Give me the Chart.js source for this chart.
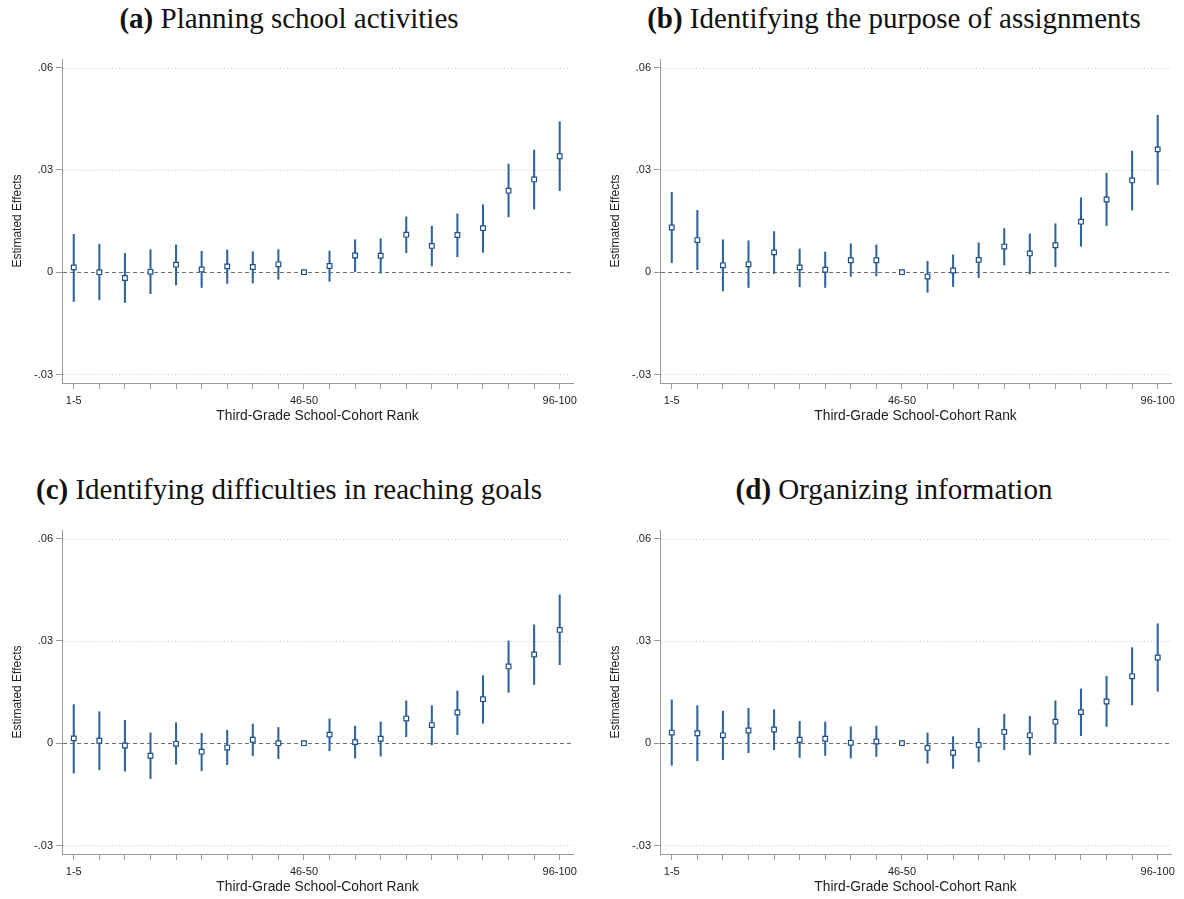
<!DOCTYPE html>
<html><head><meta charset="utf-8">
<script src="https://cdn.jsdelivr.net/npm/chart.js@4.4.1/dist/chart.umd.min.js"></script>
<style>
html,body{margin:0;padding:0;background:#fff}
body{width:1184px;height:899px;position:relative;overflow:hidden}
.ttl{position:absolute;font-family:"Liberation Serif","Times New Roman",serif;font-size:29px;color:#111;text-align:center;white-space:nowrap;line-height:30px;height:30px}
.ttl b{font-weight:bold}
.pan{position:absolute;width:592px;height:410px}
</style></head><body>
<div class="ttl" style="left:0;width:578px;top:3px"><b>(a)</b> Planning school activities</div>
<div class="ttl" style="left:600px;width:588px;top:3px"><b>(b)</b> Identifying the purpose of assignments</div>
<div class="ttl" style="left:0;width:578px;top:474px"><b>(c)</b> Identifying difficulties in reaching goals</div>
<div class="ttl" style="left:600px;width:588px;top:474px"><b>(d)</b> Organizing information</div>
<div class="pan" style="left:0;top:40px"><canvas id="cA" width="592" height="410"></canvas></div>
<div class="pan" style="left:598px;top:40px"><canvas id="cB" width="592" height="410"></canvas></div>
<div class="pan" style="left:0;top:511px"><canvas id="cC" width="592" height="410"></canvas></div>
<div class="pan" style="left:598px;top:511px"><canvas id="cD" width="592" height="410"></canvas></div>
<script>
const rankBins = ["1-5","6-10","11-15","16-20","21-25","26-30","31-35","36-40","41-45","46-50",
  "51-55","56-60","61-65","66-70","71-75","76-80","81-85","86-90","91-95","96-100"];
const shownTickLabels = ["1-5","46-50","96-100"];
const yTicks = [-0.03, 0, 0.03, 0.06];
const yTickLabels = ["-.03","0",".03",".06"];

const estA = [0.0014,0.0000,-0.0017,0.0001,0.0022,0.0008,0.0017,0.0015,0.0023,0,0.0018,0.0049,0.0048,0.0110,0.0077,0.0109,0.0129,0.0239,0.0272,0.0340];
const loA  = [-0.0086,-0.0081,-0.0089,-0.0063,-0.0038,-0.0045,-0.0033,-0.0032,-0.0021,null,-0.0027,0.0000,-0.0003,0.0057,0.0018,0.0045,0.0058,0.0162,0.0185,0.0239];
const hiA  = [0.0111,0.0082,0.0055,0.0066,0.0080,0.0061,0.0065,0.0060,0.0066,null,0.0062,0.0095,0.0098,0.0162,0.0135,0.0171,0.0198,0.0317,0.0358,0.0441];

const estB = [0.0131,0.0094,0.0020,0.0023,0.0058,0.0014,0.0007,0.0035,0.0035,0,-0.0013,0.0005,0.0036,0.0075,0.0055,0.0079,0.0148,0.0213,0.0269,0.0360];
const loB  = [0.0028,0.0007,-0.0055,-0.0045,-0.0004,-0.0043,-0.0045,-0.0012,-0.0011,null,-0.0059,-0.0042,-0.0016,0.0021,-0.0005,0.0016,0.0076,0.0136,0.0182,0.0257];
const hiB  = [0.0234,0.0181,0.0095,0.0092,0.0119,0.0068,0.0059,0.0083,0.0080,null,0.0032,0.0051,0.0086,0.0128,0.0112,0.0142,0.0218,0.0290,0.0355,0.0460];

const estC = [0.0014,0.0007,-0.0007,-0.0037,-0.0002,-0.0025,-0.0013,0.0010,0.0000,0,0.0025,0.0003,0.0013,0.0072,0.0053,0.0090,0.0129,0.0225,0.0260,0.0332];
const loC  = [-0.0088,-0.0078,-0.0082,-0.0104,-0.0062,-0.0081,-0.0063,-0.0037,-0.0045,null,-0.0022,-0.0044,-0.0038,0.0019,-0.0005,0.0025,0.0058,0.0149,0.0172,0.0230];
const hiC  = [0.0113,0.0092,0.0067,0.0030,0.0060,0.0029,0.0038,0.0056,0.0046,null,0.0071,0.0050,0.0062,0.0124,0.0110,0.0153,0.0198,0.0300,0.0347,0.0435];

const estD = [0.0031,0.0029,0.0023,0.0037,0.0040,0.0010,0.0013,0.0001,0.0005,0,-0.0014,-0.0028,-0.0005,0.0033,0.0023,0.0063,0.0091,0.0122,0.0196,0.0251];
const loD  = [-0.0065,-0.0052,-0.0048,-0.0028,-0.0019,-0.0042,-0.0036,-0.0044,-0.0039,null,-0.0059,-0.0074,-0.0055,-0.0019,-0.0034,0.0000,0.0022,0.0049,0.0112,0.0152];
const hiD  = [0.0127,0.0110,0.0094,0.0102,0.0098,0.0064,0.0062,0.0048,0.0050,null,0.0030,0.0019,0.0044,0.0085,0.0079,0.0124,0.0159,0.0196,0.0280,0.0350];

const refLines = {
  id: 'refLines',
  beforeDatasetsDraw(chart) {
    const {ctx, chartArea, scales} = chart;
    ctx.save();
    yTicks.forEach(v => {
      const y = Math.round(scales.y.getPixelForValue(v)) + 0.5;
      ctx.beginPath();
      if (v === 0) { ctx.strokeStyle = '#6f6f6f'; ctx.setLineDash([4, 3]); ctx.lineWidth = 1; }
      else { ctx.strokeStyle = '#c8c8c8'; ctx.setLineDash([1, 2.5]); ctx.lineWidth = 1; }
      ctx.moveTo(chartArea.left + 1, y);
      ctx.lineTo(chartArea.right, y);
      ctx.stroke();
    });
    ctx.restore();
  }
};

const sans = 'Liberation Sans, Arial, sans-serif';

function makeChart(id, est, lo, hi) {
  const ciData = [];
  rankBins.forEach((b, i) => { if (lo[i] !== null) ciData.push({x: i + 1, y: [lo[i], hi[i]]}); });
  const ptData = est.map((v, i) => ({x: i + 1, y: v}));
  new Chart(document.getElementById(id), {
    type: 'scatter',
    data: {datasets: [
      {type: 'bar', data: ciData, backgroundColor: '#2e639b', borderWidth: 0, barThickness: 1.4, order: 2},
      {type: 'scatter', data: ptData, pointStyle: 'rect', pointRadius: 3.3, pointHoverRadius: 3.3,
       backgroundColor: '#ffffff', borderColor: '#1c4f86', borderWidth: 1.2, order: 1}
    ]},
    options: {
      responsive: false, animation: false,
      layout: {padding: {top: 19, right: 19, left: 0, bottom: 0}},
      plugins: {legend: {display: false}, tooltip: {enabled: false}},
      scales: {
        x: {
          type: 'linear', min: 0.54, max: 20.52, offset: false,
          afterBuildTicks: s => { s.ticks = rankBins.map((b, i) => ({value: i + 1})); },
          afterFit: s => { s.height = 67; },
          ticks: {autoSkip: false, maxRotation: 0, padding: 5, color: '#222',
            font: {family: sans, size: 11},
            callback: v => { const lab = rankBins[Math.round(v) - 1]; return shownTickLabels.includes(lab) ? lab : ''; }},
          grid: {display: true, drawOnChartArea: false, drawTicks: true, tickLength: 6, tickColor: '#9a9a9a', tickWidth: 1, offset: false},
          border: {display: true, color: '#9a9a9a', width: 1},
          title: {display: true, text: 'Third-Grade School-Cohort Rank', color: '#222',
            font: {family: sans, size: 13.8}, padding: {top: 0, bottom: 26}}
        },
        y: {
          type: 'linear', min: -0.0325, max: 0.0625,
          afterBuildTicks: s => { s.ticks = yTicks.map(v => ({value: v})); },
          afterFit: s => { s.width = 62; },
          ticks: {padding: 3, color: '#222', font: {family: sans, size: 11},
            callback: v => yTickLabels[yTicks.indexOf(v)]},
          grid: {display: true, drawOnChartArea: false, drawTicks: true, tickLength: 6, tickColor: '#9a9a9a', tickWidth: 1},
          border: {display: true, color: '#9a9a9a', width: 1},
          title: {display: true, text: 'Estimated Effects', color: '#222',
            font: {family: sans, size: 12}, padding: {top: 10, bottom: 0}}
        }
      }
    },
    plugins: [refLines]
  });
}

makeChart('cA', estA, loA, hiA);
makeChart('cB', estB, loB, hiB);
makeChart('cC', estC, loC, hiC);
makeChart('cD', estD, loD, hiD);
</script>
</body></html>
